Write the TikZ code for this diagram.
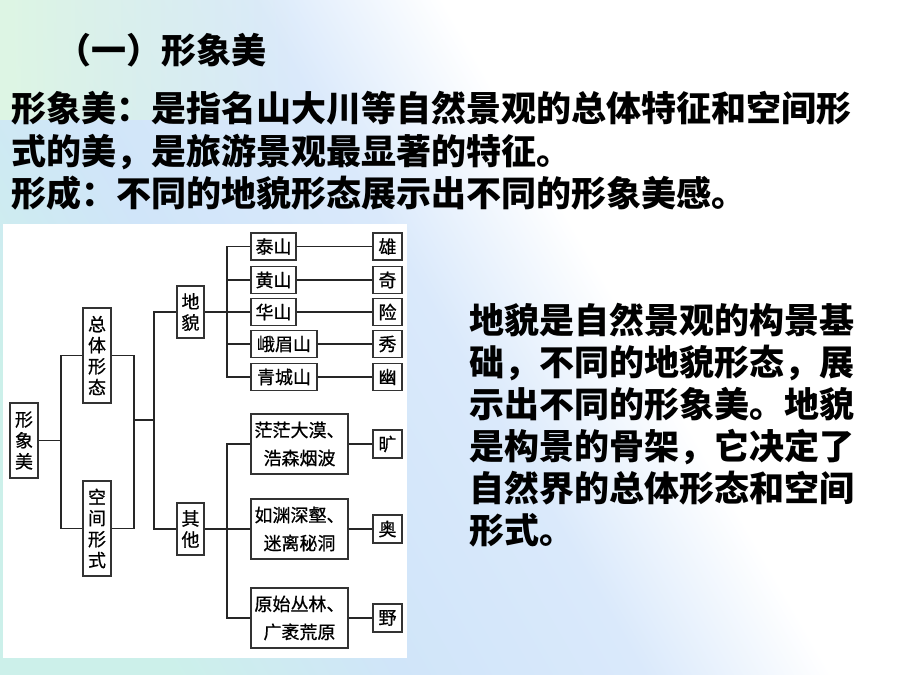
\documentclass[tikz,border=0pt]{standalone}
\usepackage{fontspec}
\newfontfamily\cjk{Noto Sans CJK SC}
\newfontfamily\cjkbox{Noto Sans CJK SC}[FakeBold=0.7]
\usetikzlibrary{calc,fadings}
\definecolor{bgA}{RGB}{204,240,234}
\definecolor{bgB}{RGB}{208,229,249}
\definecolor{bgC}{RGB}{218,233,251}
\definecolor{bgG}{RGB}{222,246,228}
\pgfdeclarehorizontalshading{bgshade}{100bp}{color(0bp)=(bgA); color(25bp)=(bgA); color(37bp)=(bgB); color(50bp)=(bgC); color(60bp)=(white); color(100bp)=(white)}
\begin{document}
\begin{tikzpicture}[x=1pt,y=-1pt,
  bx/.style={draw=black!80, line width=1.1pt, fill=white, inner sep=0pt, align=center,
    font=\cjkbox\fontsize{18}{21}\selectfont},
  bx2/.style={bx, font=\cjkbox\fontsize{18}{28}\selectfont},
  ln/.style={draw=black!85, line width=1.1pt},
  big/.style={font=\cjk\bfseries\fontsize{35}{42}\selectfont, inner sep=0pt, anchor=base west}]
\useasboundingbox (0,0) rectangle (900,675);
\shade[shading=bgshade, shading angle=30] (0,0) rectangle (900,675);
\fill[bgG, path fading=east] (0,0) rectangle (300,120);
\fill[white] (3,224) rectangle (407,658);

% top text
\node[big] (title) at (56,63) {（一）形象美};
\node[big] (l1) at (11,121) {形象美：是指名山大川等自然景观的总体特征和空间形};
\node[big] (l2) at (11,164) {式的美，是旅游景观最显著的特征。};
\node[big] (l3) at (11,206) {形成：不同的地貌形态展示出不同的形象美感。};

% right text
\node[big] (r1) at (469,333) {地貌是自然景观的构景基};
\node[big] (r2) at (469,375) {础，不同的地貌形态，展};
\node[big] (r3) at (469,417) {示出不同的形象美。地貌};
\node[big] (r4) at (469,459) {是构景的骨架，它决定了};
\node[big] (r5) at (469,501) {自然界的总体形态和空间};
\node[big] (r6) at (469,543) {形式。};

% tree boxes
\node[bx, minimum width=28pt, minimum height=75pt] (xm) at (24,440.5) {形\\象\\美};
\node[bx, minimum width=28pt, minimum height=95pt] (zt) at (97,355.5) {总\\体\\形\\态};
\node[bx, minimum width=28pt, minimum height=95pt] (kj) at (97,528.5) {空\\间\\形\\式};
\node[bx, minimum width=27pt, minimum height=52pt] (dm) at (190.5,312) {地\\貌};
\node[bx, minimum width=27pt, minimum height=52pt] (qt) at (190.5,529) {其\\他};

\node[bx, minimum width=45pt, minimum height=27pt] (ts) at (273.5,246.5) {泰山};
\node[bx, minimum width=45pt, minimum height=27pt] (hs) at (273.5,280) {黄山};
\node[bx, minimum width=45pt, minimum height=27pt] (hu) at (273.5,312) {华山};
\node[bx, minimum width=66pt, minimum height=27pt] (em) at (284,344) {峨眉山};
\node[bx, minimum width=66pt, minimum height=27pt] (qc) at (284,377) {青城山};

\node[bx, minimum width=29pt, minimum height=27pt] (c1) at (387.5,246.5) {雄};
\node[bx, minimum width=29pt, minimum height=27pt] (c2) at (387.5,280) {奇};
\node[bx, minimum width=29pt, minimum height=27pt] (c3) at (387.5,312) {险};
\node[bx, minimum width=29pt, minimum height=27pt] (c4) at (387.5,344) {秀};
\node[bx, minimum width=29pt, minimum height=27pt] (c5) at (387.5,377) {幽};

\node[bx2, minimum width=97pt, minimum height=60pt] (mm) at (299.5,444) {茫茫大漠、\\浩森烟波};
\node[bx2, minimum width=97pt, minimum height=60pt] (ys) at (299.5,529) {如渊深壑、\\迷离秘洞};
\node[bx2, minimum width=97pt, minimum height=60pt] (yl) at (299.5,618) {原始丛林、\\广袤荒原};

\node[bx, minimum width=29pt, minimum height=28pt] (c6) at (387.5,444) {旷};
\node[bx, minimum width=29pt, minimum height=28pt] (c7) at (387.5,529) {奥};
\node[bx, minimum width=29pt, minimum height=28pt] (c8) at (387.5,618) {野};

% connectors
\coordinate (j1) at (61,440.5);
\coordinate (j2) at (134,420);
\coordinate (j3) at (154,420);
\coordinate (j4) at (227,312);
\coordinate (j5) at (227,529);
\draw[ln] (xm.east) -- (j1);
\draw[ln] (zt.west) -| (j1) |- (kj.west);
\draw[ln] (zt.east) -| (j2) |- (kj.east);
\draw[ln] (j2) -- (j3);
\draw[ln] (dm.west) -| (j3) |- (qt.west);
\draw[ln] (dm.east) -- (hu.west);
\draw[ln] (ts.west) -| (j4) |- (qc.west);
\draw[ln] (hs.west) -- (hs.west -| j4);
\draw[ln] (em.west) -- (em.west -| j4);
\draw[ln] (qt.east) -- (ys.west);
\draw[ln] (mm.west) -| (j5) |- (yl.west);
\draw[ln] (ts.east) -- (c1.west);
\draw[ln] (hs.east) -- (c2.west);
\draw[ln] (hu.east) -- (c3.west);
\draw[ln] (em.east) -- (c4.west);
\draw[ln] (qc.east) -- (c5.west);
\draw[ln] (mm.east) -- (c6.west);
\draw[ln] (ys.east) -- (c7.west);
\draw[ln] (yl.east) -- (c8.west);
\end{tikzpicture}
\end{document}
